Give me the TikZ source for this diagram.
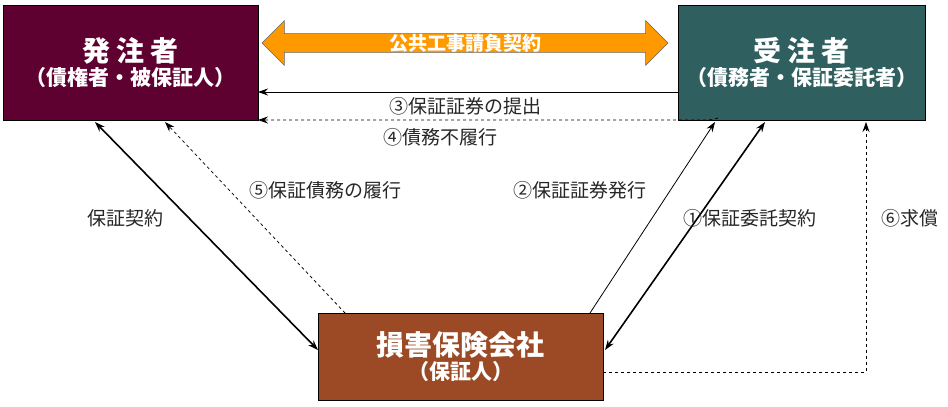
\documentclass[tikz,border=0pt]{standalone}
\usepackage{fontspec}
\setmainfont{Noto Sans CJK JP}
\usetikzlibrary{shapes.arrows,arrows.meta}
\definecolor{ownercol}{RGB}{94,0,48}
\definecolor{contractorcol}{RGB}{47,95,95}
\definecolor{insurercol}{RGB}{155,74,37}
\definecolor{bandcol}{RGB}{255,153,0}
\tikzstyle{every path}=[line width=0.8pt]
\tikzstyle{party}=[draw=black, line width=0.8pt, text=white, font=\bfseries, align=center, inner sep=0pt]
\tikzstyle{tag}=[font=\fontsize{19}{19}\selectfont, text=black!85]
\tikzstyle{flow}=[-{Stealth[length=10pt,width=7pt]}]
\begin{document}
\begin{tikzpicture}[x=1pt,y=-1pt]
            \useasboundingbox (0,0) rectangle (948,407);
            \node[party, fill=ownercol, minimum width=255, minimum height=115] (owner) at (130.5,62.5)
                {{\fontsize{28}{32}\selectfont 発 注 者}\\[2pt]{\fontsize{21}{24}\selectfont （債権者・被保証人）}};
            \node[party, fill=contractorcol, minimum width=247, minimum height=115] (contractor) at (801.5,62.5)
                {{\fontsize{28}{32}\selectfont 受 注 者}\\[2pt]{\fontsize{21}{24}\selectfont （債務者・保証委託者）}};
            \node[party, fill=insurercol, minimum width=285, minimum height=87] (insurer) at (460.5,356.5)
                {{\fontsize{28}{32}\selectfont 損害保険会社}\\[2pt]{\fontsize{21}{24}\selectfont （保証人）}};
            \node[double arrow, fill=bandcol, draw=black!60, line width=0.5pt, minimum height=406, minimum width=37,
                double arrow head extend=13pt, double arrow head indent=0pt, inner sep=0pt,
                text=white, font=\bfseries\fontsize{19}{22}\selectfont] (band) at (465,43) {公共工事請負契約};

            % submission of certificate and default
            \coordinate (c1) at (678,92);
            \coordinate (o1) at (258,92);
            \draw[flow] (c1) -- (o1);
            \coordinate (c2) at (718,118);
            \coordinate (o2) at (258,120);
            \draw[flow, dashed] (c2) .. controls (712,120) .. (700,120) -- (o2);
            \node[tag] (l3) at (465,106) {③保証証券の提出};
            \node[tag] (l4) at (440,137) {④債務不履行};

            % guarantee lines
            \coordinate (o3) at (95,122);
            \coordinate (i3) at (318,350);
            \draw[{Stealth[length=10pt,width=7pt]}-{Stealth[length=10pt,width=7pt]}, line width=1.6pt] (o3) -- (i3);
            \node[tag] (l0) at (125,218) {保証契約};
            \coordinate (i5) at (345,313);
            \coordinate (o5) at (165,122);
            \draw[flow, dashed] (i5) -- (o5);
            \node[tag] (l5) at (325,190) {⑤保証債務の履行};
            \coordinate (i2) at (590,313);
            \coordinate (c5) at (715,122);
            \draw[flow] (i2) -- (c5);
            \node[tag] (l2) at (580,190) {②保証証券発行};
            \coordinate (i1) at (605,350);
            \coordinate (c6) at (765,122);
            \draw[{Stealth[length=10pt,width=7pt]}-{Stealth[length=10pt,width=7pt]}, line width=1.6pt] (i1) -- (c6);
            \node[tag] (l1) at (750,218) {①保証委託契約};
            \coordinate (i6) at (603,372);
            \coordinate (c7) at (866,122);
            \draw[flow, dashed] (i6) -- (866,372) -- (c7);
            \node[tag] (l6) at (910,218) {⑥求償};
        \end{tikzpicture}
\end{document}
